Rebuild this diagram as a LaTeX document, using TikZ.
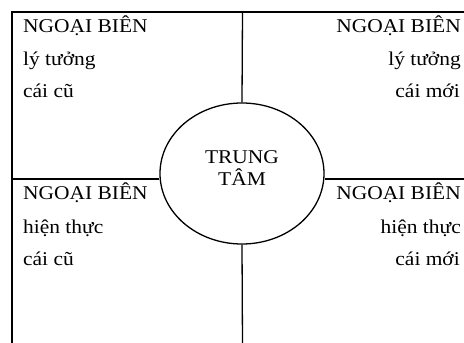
\documentclass[tikz,border=0pt]{standalone}
\usepackage{fontspec}
\setmainfont{Liberation Serif}[FakeStretch=1.1]
\usetikzlibrary{shapes.geometric}
\begin{document}
\begin{tikzpicture}[x=1pt,y=-1pt,
  frame/.style={draw=black,line width=1.3pt},
  lbl/.style={inner sep=0pt,font=\fontsize{19.5}{22}\selectfont},
  lft/.style={lbl,anchor=base west},
  rgt/.style={lbl,anchor=base east},
  mid/.style={lbl,anchor=base},
  hub/.style={draw=black,line width=1.3pt,ellipse,minimum width=164pt,minimum height=141pt,inner sep=0pt}]
\useasboundingbox (0,0) rectangle (464,343);
% frame corners and line ends
\coordinate (tl) at (12,12);
\coordinate (tr) at (466,12);
\coordinate (bl) at (12,345);
\coordinate (topmid) at (242.5,12);
\coordinate (botmid) at (242.5,345);
\coordinate (lmid) at (12,179);
\coordinate (rmid) at (466,179);
% centre
\node[hub] (ctr) at (242,173.5) {};
\node[mid] (ctrA) at (242,163) {TRUNG};
\node[mid] (ctrB) at (242,185) {TÂM};
% frame and dividers
\draw[frame] (bl) -- (tl) -- (tr);
\draw[frame] (topmid) -- (ctr.north);
\draw[frame] (ctr.south) -- (botmid);
\draw[frame] (lmid) -- (ctr.west |- lmid);
\draw[frame] (ctr.east |- rmid) -- (rmid);
% top left
\node[lft] (tl1) at (23,32) {NGOẠI BIÊN};
\node[lft] (tl2) at (23,65) {lý tưởng};
\node[lft] (tl3) at (23,97) {cái cũ};
% top right
\node[rgt] (tr1) at (461,32) {NGOẠI BIÊN};
\node[rgt] (tr2) at (461,65) {lý tưởng};
\node[rgt] (tr3) at (460,97) {cái mới};
% bottom left
\node[lft] (bl1) at (23,199) {NGOẠI BIÊN};
\node[lft] (bl2) at (23,233) {hiện thực};
\node[lft] (bl3) at (23,265) {cái cũ};
% bottom right
\node[rgt] (br1) at (461,199) {NGOẠI BIÊN};
\node[rgt] (br2) at (461,233) {hiện thực};
\node[rgt] (br3) at (460,265) {cái mới};
\end{tikzpicture}
\end{document}
